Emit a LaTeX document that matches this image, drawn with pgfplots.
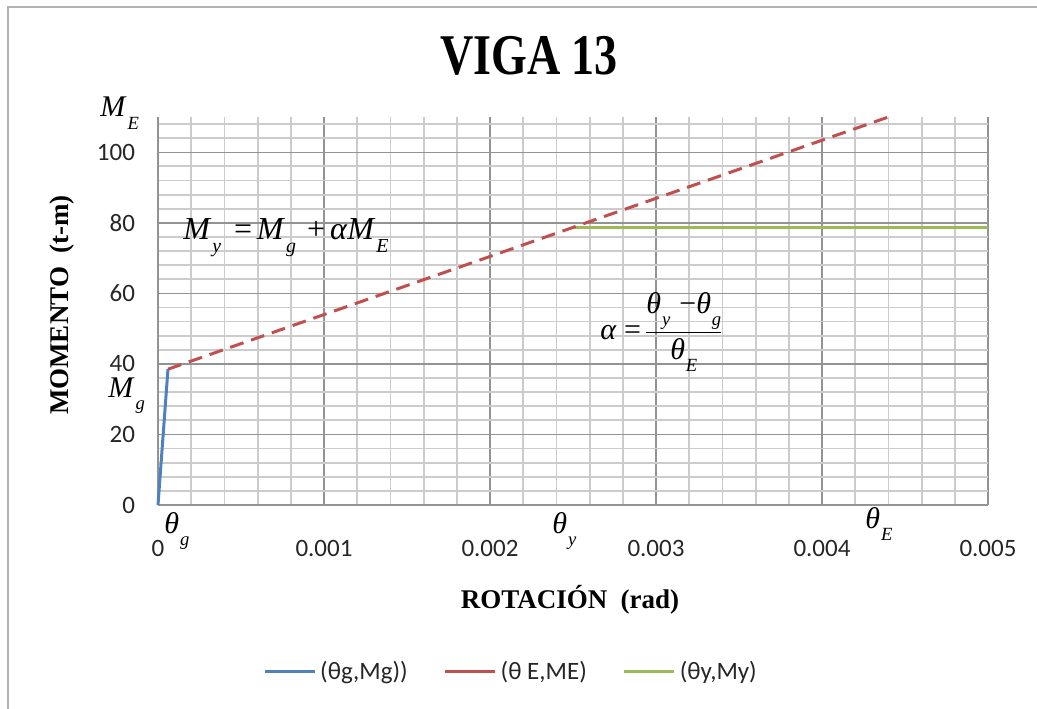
\documentclass[border=0pt]{standalone}
\usepackage{pgfplots}
\pgfplotsset{compat=1.18}
\usepackage{fontspec}
\usepackage{graphicx}
\setmainfont{Liberation Serif}
\newfontfamily\calibri{Carlito}

\definecolor{exblue}{HTML}{4F81BD}
\definecolor{exred}{HTML}{C0504D}
\definecolor{exgreen}{HTML}{9BBB59}

% italic symbol with a lowered, reduced subscript
\newcommand\sub[1]{\raisebox{-0.42em}{\scalebox{0.62}{\textit{#1}}}}
\newcommand\sym[2]{\textit{#1}\kern0.03em\sub{#2}}

\pgfplotsset{
  frame/.style={at={(79pt,101.5pt)}, anchor=south west,
    scale only axis, width=415pt, height=194pt,
    xmin=0, xmax=0.005, ymin=0, ymax=110, clip=false},
}

\begin{document}
\begin{tikzpicture}
\useasboundingbox (0pt,0pt) rectangle (518.5pt,354pt);
\draw[gray!60, line width=1pt] (4pt,-3pt) -- (4pt,350.5pt) -- (525pt,350.5pt);

% grid, ticks, solid branches and legend
\begin{axis}[
  frame, scaled x ticks=false,
  axis x line*=bottom, axis y line*=left,
  axis line style={gray!85, line width=0.7pt},
  xtick={0,0.001,0.002,0.003,0.004,0.005},
  xticklabels={0,0.001,0.002,0.003,0.004,0.005},
  ytick={0,20,40,60,80,100},
  yticklabels={0,20,40,60,80,100},
  minor xtick={0.0002,0.0004,0.0006,0.0008,0.0012,0.0014,0.0016,0.0018,
    0.0022,0.0024,0.0026,0.0028,0.0032,0.0034,0.0036,0.0038,
    0.0042,0.0044,0.0046,0.0048},
  minor ytick={4,8,12,16,24,28,32,36,44,48,52,56,64,68,72,76,84,88,92,96,104,108},
  grid=both,
  minor grid style={gray!40, line width=0.9pt},
  major grid style={gray!85, line width=0.7pt},
  major tick length=0pt, minor tick length=0pt,
  ticklabel style={font=\calibri\fontsize{12.5}{14}\selectfont, text=black!85},
  xticklabel style={yshift=-14pt},
  yticklabel style={xshift=-8pt},
  legend style={at={(0.4265,-0.43)}, anchor=center, draw=none, fill=none,
    legend columns=3, font=\calibri\fontsize{12.5}{14}\selectfont, text=black!85,
    /tikz/every even column/.append style={column sep=16pt}},
  legend image code/.code={\draw[#1] (0pt,0pt) -- (25pt,0pt);},
]
\addplot[exblue, line width=1.5pt, forget plot] coordinates {(0,0) (0.00006,38.5)};
\addplot[exgreen, line width=1.5pt, forget plot] coordinates {(0.0025,78.8) (0.005,78.8)};
\addlegendimage{exblue, line width=1.5pt}
\addlegendentry{(θg,Mg))}
\addlegendimage{exred, line width=1.5pt}
\addlegendentry{(θ E,ME)}
\addlegendimage{exgreen, line width=1.5pt}
\addlegendentry{(θy,My)}
\end{axis}

% dashed branch from (theta_g, M_g) to (theta_E, M_E)
\begin{axis}[frame, hide axis]
\addplot[exred, line width=1.5pt, dash pattern=on 7pt off 4pt] coordinates {(0.00006,38.5) (0.0044,110)};
\end{axis}

\begin{scope}[x=0.5pt,y=0.5pt]
% title and axis titles
\node at (529,652) {\fontsize{28.8}{30}\selectfont\bfseries\scalebox{0.8}[1]{VIGA 13}};
\node[rotate=90] at (62,403) {\fontsize{13.5}{16}\selectfont\bfseries MOMENTO\ \ (t-m)};
\node at (570,108) {\fontsize{13.5}{16}\selectfont\bfseries ROTACIÓN\ \ (rad)};

% symbol annotations
\begin{scope}[every node/.style={inner sep=0pt, font=\fontsize{15}{18}\selectfont}]
\node[anchor=base west] at (100,591) {\sym{M}{E}};
\node[anchor=base west] at (108,311) {\sym{M}{g}};
\node[anchor=base west] at (164,175) {\sym{θ}{g}};
\node[anchor=base west] at (552,175) {\sym{θ}{y}};
\node[anchor=base west] at (865,180) {\sym{θ}{E}};
\node[anchor=base west, font=\fontsize{16}{19}\selectfont] at (183,469)
  {\sym{M}{y}\hspace{0.4em}=\hspace{0.15em}\sym{M}{g}\hspace{0.35em}+\hspace{0.15em}\textit{α}\sym{M}{E}};
\node[anchor=west] at (600,376)
  {\textit{α}\hspace{0.25em}=\hspace{0.1em}$\displaystyle\frac{\mbox{\sym{θ}{y}\hspace{0.3em}−\sym{θ}{g}}}{\mbox{\sym{θ}{E}}}$};
\end{scope}
\end{scope}
\end{tikzpicture}
\end{document}
